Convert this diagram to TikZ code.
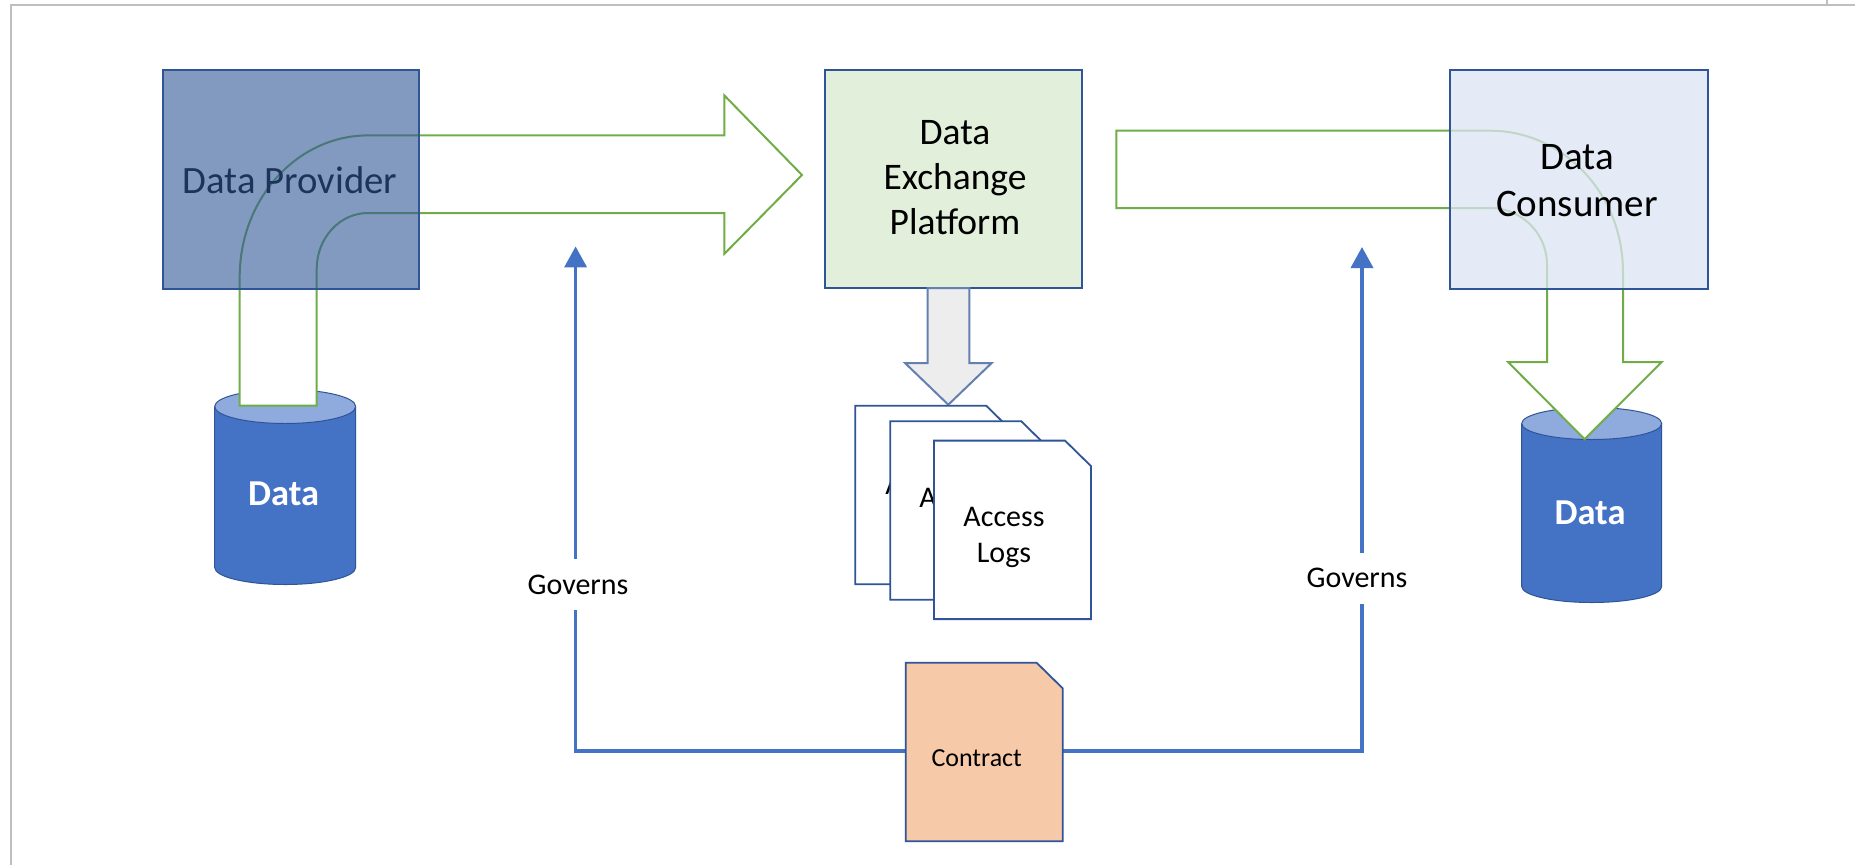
\documentclass[tikz,border=0pt]{standalone}
\usepackage{fontspec}
\setmainfont{Carlito}
\usetikzlibrary{arrows.meta,calc}
\definecolor{boxline}{HTML}{2F5597}
\definecolor{grn}{HTML}{70AD47}
\definecolor{cylbody}{HTML}{4472C4}
\definecolor{cyltop}{HTML}{8FAADC}
\definecolor{consfill}{HTML}{DBE4F3}
\definecolor{platfill}{HTML}{E2EFDA}
\definecolor{contfill}{HTML}{F6C9A9}
\definecolor{gov}{HTML}{4472C4}
\tikzset{
  x=1pt,y=-1pt,
  sqbox/.style={rectangle,inner sep=0pt,align=center,line width=2pt},
  blockarrow/.style={draw=grn,fill=white,line width=2pt,line join=miter},
  govline/.style={draw=gov,line width=3.6pt,-{Triangle[length=21pt,width=22pt]}},
  govlabel/.style={fill=white,inner sep=0pt,minimum width=104pt,minimum height=51pt,font=\fontsize{30}{34}\selectfont},
  doctxt/.style={align=center,inner sep=0pt,font=\fontsize{30}{35.5}\selectfont},
  framel/.style={draw=black!25,line width=2pt},
  cyl/.style={draw=boxline,line width=1pt},
  datatxt/.style={text=white,font=\fontsize{36.5}{40}\selectfont\bfseries}
}
% #1 name, #2 left, #3 top, #4 fill
\newcommand{\snipdoc}[5]{%
  \draw[draw=boxline,line width=1.8pt,fill=#4,line join=miter]
    (#2,#3) -- ++(131,0) -- ++(26,25.5) -- ++(0,153) -- ++(-157,0) -- cycle;
  \node[#5] (#1) at (#2+78.5,#3+95) {};
}
\newcommand{\cylinder}[6]{% cx top(center of top ellipse) bottom(center of bottom ellipse) rx ry
  \fill[cylbody] (#1-#4,#2) -- (#1-#4,#3) arc[start angle=180,end angle=360,x radius=#4,y radius=-#5] -- (#1+#4,#2) -- cycle;
  \draw[cyl] (#1-#4,#2) -- (#1-#4,#3) arc[start angle=180,end angle=360,x radius=#4,y radius=-#5] -- (#1+#4,#2);
  \draw[cyl,fill=cyltop] (#1,#2) ellipse[x radius=#4,y radius=#5];
}
\begin{document}
\begin{tikzpicture}
\useasboundingbox (0,0) rectangle (1855,865);
\fill[white] (0,0) rectangle (1855,865);
% frame
\coordinate (fa) at (11,865);
\coordinate (fb) at (11,5);
\coordinate (fc) at (1855,5);
\coordinate (fd) at (1827,5);
\coordinate (fe) at (1827,0);
\draw[framel] (fa) -- (fb) -- (fc);
\draw[framel] (fd) -- (fe);
% cylinders
\cylinder{285.2}{406.5}{567.5}{70.5}{17}{}
\node[datatxt] (dataL) at (283.7,494) {Data};
\cylinder{1591.7}{423.5}{586.5}{70}{16}{}
\node[datatxt] (dataR) at (1590,512.5) {Data};
% big arrow provider -> platform
\draw[blockarrow] (239.7,405.5) -- (239.7,277)
  .. controls (239.7,198.8) and (297.1,135.4) .. (368,135.4)
  -- (724.4,135.4) -- (724.4,95.5) -- (802,175) -- (724.4,253.8) -- (724.4,213) -- (368,213)
  .. controls (339.7,213) and (316.7,238) .. (316.7,269)
  -- (316.7,405.5) -- cycle;
% provider text under the overlay
\node[font=\fontsize{38.7}{42}\selectfont] (provtxt) at (290,180.6) {Data Provider};
% provider box overlay
\node[sqbox,minimum width=256pt,minimum height=218.6pt,fill=boxline,fill opacity=.6,draw=boxline] (provider) at (291,179.3) {};
% arrow platform -> consumer -> data
\draw[blockarrow] (1116.3,130.7) -- (1490,130.7)
  .. controls (1563.5,130.7) and (1623,194) .. (1623,272)
  -- (1623,362) -- (1661.7,362) -- (1584.6,439.2) -- (1508,362) -- (1547,362) -- (1547,264.6)
  .. controls (1547,233.3) and (1521.5,208) .. (1490,208)
  -- (1116.3,208) -- cycle;
% consumer box
\node[sqbox,minimum width=257.6pt,minimum height=218.6pt,fill=consfill,fill opacity=.75,draw=boxline] (consumer) at (1578.8,179.3) {};
\node[font=\fontsize{39}{46.5}\selectfont,align=center,inner sep=0pt] (constxt) at (1577,180.5) {Data\\Consumer};
% platform
\node[sqbox,minimum width=257.3pt,minimum height=218pt,fill=platfill,draw=boxline] (platform) at (953.7,179) {};
\node[font=\fontsize{37.5}{45}\selectfont,align=center,inner sep=0pt] (plattxt) at (955,177.5) {Data\\Exchange\\Platform};
% gray arrow
\coordinate (gtip) at (948.3,404.7);
\draw[draw=boxline!75,fill=black!7,line width=2pt,line join=miter] (927.7,288) -- (927.7,363) -- (905,363) -- (gtip) -- (991.7,363) -- (969.3,363) -- (969.3,288) -- cycle;
% documents
\snipdoc{doca}{855.3}{405.8}{white}{doctxt}
\node[doctxt] (docatxt) at (926,505) {Access\\Logs};
\snipdoc{docb}{890.3}{421.3}{white}{doctxt}
\node[doctxt] (docbtxt) at (960,518.5) {Access\\Logs};
\snipdoc{docc}{934}{440.6}{white}{doctxt}
\node[doctxt] (docctxt) at (1004,537.5) {Access\\Logs};
% contract connectors
\coordinate (cw) at (905.7,750.7);
\coordinate (ce) at (1062.7,750.7);
\coordinate (tipL) at (575.6,246.4);
\coordinate (tipR) at (1362,247);
\draw[govline] (cw) -| (tipL);
\draw[govline] (ce) -| (tipR);
\node[govlabel] (govL) at (578,584.5) {Governs};
\node[govlabel] (govR) at (1357,578) {Governs};
\snipdoc{contractshape}{905.7}{662.8}{contfill}{inner sep=0pt}
\node[font=\fontsize{26}{30}\selectfont,inner sep=0pt] (contract) at (976.7,758.5) {Contract};
\end{tikzpicture}
\end{document}
